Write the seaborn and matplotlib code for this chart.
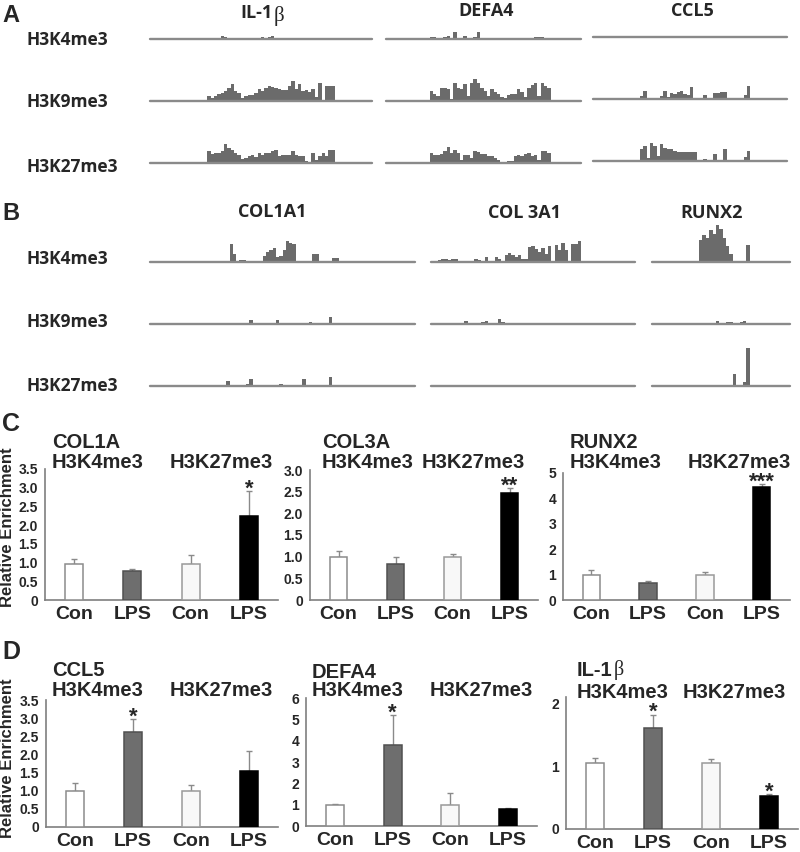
#!/usr/bin/env python3
# -*- coding:utf-8 -*-
import numpy as np
import pandas as pd
import seaborn as sns
from matplotlib import pyplot as plt

W, H = 800, 852

# ---------- A / B : ChIP-seq coverage tracks ----------
# first bin index of the signal, then read coverage per bin
il1b_nbins = 66
il1b_k4_start = 21
il1b_k4 = [3, 2, 0, 0, 0, 0, 0, 0, 0, 0, 0, 0, 2, 0, 2.3, 3.5, 0, 0, 0, 0, 0, 1.5, 0, 0, 0, 0, 0, 1.5]
il1b_k9_start = 17
il1b_k9 = [5, 3, 5, 7, 8, 10, 13, 17, 10, 8, 3, 5, 6, 6, 8, 12, 10, 13, 15, 14,
           13, 12, 11, 11, 15, 20, 12, 17, 10, 11, 9, 12, 4, 18, 0, 15, 15, 15]
il1b_k27_start = 17
il1b_k27 = [12, 9, 10, 10, 12, 19, 15, 13, 10, 8, 4, 5, 7, 8, 6, 10, 8, 10, 10, 12,
            13, 7, 8, 8, 8, 12, 8, 7, 7, 2, 0, 10, 3, 7, 10, 7, 13, 13]

defa4_nbins = 58
defa4_k4_start = 13
defa4_k4 = [2, 2, 0, 0, 2, 3, 0, 7, 0, 0, 3, 0, 0, 2, 7, 0, 0, 0, 0, 0,
            0, 0, 0, 0, 0, 0, 0, 0, 1.5, 0, 0, 2, 2.5, 2, 0, 1.5]
defa4_k9_start = 13
defa4_k9 = [10, 7, 5, 13, 13, 12, 2, 18, 13, 12, 17, 5, 18, 22, 18, 13, 10, 5, 12, 9,
            7, 4, 3, 6, 7, 7, 12, 9, 4, 13, 16, 18, 5, 18, 15, 13]
defa4_k27_start = 13
defa4_k27 = [10, 8, 8, 9, 12, 16, 10, 13, 10, 3, 8, 8, 5, 12, 11, 9, 9, 7, 7, 5,
             3, 1, 1, 2, 2, 7, 8, 7, 9, 10, 7, 8, 3, 12, 12, 10]

ccl5_nbins = 58
ccl5_k4_start = 26
ccl5_k4 = [1.5]
ccl5_k9_start = 14
ccl5_k9 = [3, 8, 0, 0, 0, 0, 3, 8, 2, 6, 5, 7, 8, 5, 4, 12, 0, 0, 0, 4,
           0, 0, 6, 6, 7, 7, 0, 0, 0, 0, 0, 4, 13]
ccl5_k27_start = 14
ccl5_k27 = [12, 15, 3, 18, 15, 5, 17, 13, 12, 12, 10, 9, 9, 9, 9, 9, 9, 0, 0, 2,
            0, 0, 7, 0, 0, 12, 0, 0, 0, 0, 0, 4, 10]

col1a1_nbins = 80
col1a1_k4_start = 24
col1a1_k4 = [18, 8, 0, 2, 2, 0, 0, 0, 0, 0, 6, 10, 12, 14, 5, 6, 12, 21, 19, 18,
             0, 0, 0, 0, 0, 8, 8, 0, 0, 0, 0, 4, 4]
col1a1_k9_start = 30
col1a1_k9 = [4, 0, 0, 0, 0, 0, 0, 0, 4, 0, 0, 0, 0, 0, 0, 0, 0, 0, 2, 0, 0, 0, 0, 0, 7]
col1a1_k27_start = 23
col1a1_k27 = [5, 0, 0, 0, 0, 0, 2, 7, 0, 0, 0, 0, 0, 0, 0, 0, 2, 0, 0, 0,
              0, 0, 0, 7, 0, 0, 0, 0, 0, 0, 0, 9]

col3a1_nbins = 61
col3a1_k4_start = 2
col3a1_k4 = [2, 3, 3, 2, 3, 3, 0, 0, 0, 0, 0, 3, 2, 0, 5, 0, 0, 5, 3, 0,
             7, 9, 7, 5, 7, 3, 3, 15, 16, 13, 10, 14, 8, 16, 0, 17, 12, 19, 12, 0,
             18, 18, 21]
col3a1_k9_start = 10
col3a1_k9 = [3, 0, 0, 0, 0, 2, 3, 0, 0, 0, 5, 2]
col3a1_k27_start = 0
col3a1_k27 = []

runx2_nbins = 41
runx2_k4_start = 14
runx2_k4 = [22, 27, 24, 32, 28, 37, 33, 24, 16, 8, 0, 0, 0, 0, 17]
runx2_k9_start = 19
runx2_k9 = [3, 0, 0, 2, 2, 0, 0, 2, 3]
runx2_k27_start = 24
runx2_k27 = [12, 0, 0, 4, 38]

track_rows = ["H3K4me3", "H3K9me3", "H3K27me3"]

# ---------- C / D : ChIP-qPCR relative enrichment ----------
groups = ["Con K4", "LPS K4", "Con K27", "LPS K27"]
group_labels = ["Con", "LPS", "Con", "LPS"]

col1a_mean = [0.97, 0.77, 0.97, 2.25]
col1a_err = [0.12, 0.07, 0.24, 0.65]
col1a_sig = ["", "", "", "*"]
col3a_mean = [1.0, 0.83, 1.0, 2.46]
col3a_err = [0.13, 0.17, 0.07, 0.12]
col3a_sig = ["", "", "", "**"]
runx2_mean = [1.0, 0.68, 1.0, 4.45]
runx2_err = [0.2, 0.08, 0.12, 0.1]
runx2_sig = ["", "", "", "***"]
ccl5_mean = [1.0, 2.62, 1.0, 1.53]
ccl5_err = [0.22, 0.35, 0.17, 0.57]
ccl5_sig = ["", "*", "", ""]
defa4_mean = [0.98, 3.8, 0.98, 0.82]
defa4_err = [0.04, 1.38, 0.58, 0.04]
defa4_sig = ["", "*", "", ""]
il1b_mean = [1.05, 1.6, 1.05, 0.53]
il1b_err = [0.08, 0.22, 0.07, 0.03]
il1b_sig = ["", "*", "", "*"]

ticks_35 = [0, 0.5, 1.0, 1.5, 2.0, 2.5, 3.0, 3.5]
ticks_35_lab = ["0", "0.5", "1.0", "1.5", "2.0", "2.5", "3.0", "3.5"]
ticks_30 = [0, 0.5, 1.0, 1.5, 2.0, 2.5, 3.0]
ticks_30_lab = ["0", "0.5", "1.0", "1.5", "2.0", "2.5", "3.0"]
ticks_5 = [0, 1, 2, 3, 4, 5]
ticks_6 = [0, 1, 2, 3, 4, 5, 6]
ticks_2 = [0, 1, 2]

bar_fill = ["white", "#6e6e6e", "#f8f8f8", "black"]
bar_edge = ["#8c8c8c", "#505050", "#9a9a9a", "black"]

sns.set_style("white")
plt.rcParams["font.family"] = ["Liberation Sans", "DejaVu Sans"]
TRACK_FONT = ["Open Sans", "Liberation Sans", "DejaVu Sans"]

fig = plt.figure(figsize=(W / 100, H / 100), dpi=100)


def px_axes(x0, y_top, x1, y_bot):
    return fig.add_axes([x0 / W, 1 - y_bot / H, (x1 - x0) / W, (y_bot - y_top) / H])


def fig_text(x, y, s, **kw):
    kw.setdefault("va", "center")
    kw.setdefault("fontweight", "bold")
    return fig.text(x / W, 1 - y / H, s, **kw)


def beta_after(txt, size, dy=0):
    """append a serif beta right after a text artist"""
    fig.axes[0].annotate("β", xy=(1, 0), xycoords=txt, xytext=(0.5, dy),
                         textcoords="offset points", va="bottom", ha="left",
                         fontsize=size, family="Liberation Serif", annotation_clip=False)


def draw_track(x0, x1, base, nbins, start, values):
    ax = px_axes(x0, base - 45, x1, base)
    idx = np.arange(start, start + len(values))
    ax.bar(idx, values, width=1, align="edge", color="#6b6b6b", linewidth=0)
    ax.axhline(0, color="#8a8a8a", lw=1.7, clip_on=False)
    ax.set_xlim(0, nbins)
    ax.set_ylim(0, 45)
    ax.axis("off")


def draw_bars(box, ymax, ticks, ticklabels, mean, err, sig):
    ax = px_axes(*box)
    df = pd.DataFrame({"group": groups, "value": mean})
    sns.barplot(data=df, x="group", y="value", hue="group", order=groups,
                hue_order=groups, palette=dict(zip(groups, bar_fill)),
                width=0.31, saturation=1, legend=False, ax=ax, errorbar=None)
    for p, ec in zip(ax.patches, bar_edge):
        p.set_edgecolor(ec)
        p.set_linewidth(1.1)
        p.set_zorder(3)
    xs = np.arange(len(groups))
    ax.errorbar(xs, mean, yerr=[np.zeros(len(err)), err], fmt="none",
                ecolor="#8a8a8a", elinewidth=1, capsize=2.5, capthick=1, zorder=1)
    for x, m, e, s in zip(xs, mean, err, sig):
        if s:
            ax.annotate(s, (x, m + e), xytext=(0, -2.5), textcoords="offset points",
                        ha="center", va="baseline", fontsize=16, fontweight="bold")
    ax.set_xlim(-0.5, len(groups) - 0.5)
    ax.set_ylim(0, ymax)
    ax.set_yticks(ticks)
    ax.set_yticklabels(ticklabels if ticklabels else [str(t) for t in ticks],
                       fontweight="bold", fontsize=10)
    ax.set_xticks(xs)
    ax.set_xticklabels(group_labels, fontweight="bold", fontsize=14)
    ax.tick_params(axis="y", length=0, pad=5)
    ax.tick_params(axis="x", length=0, pad=4)
    ax.set_xlabel("")
    ax.set_ylabel("")
    sns.despine(ax=ax)
    for side in ("left", "bottom"):
        ax.spines[side].set_color("#7f7f7f")
        ax.spines[side].set_linewidth(1.2)
    ax.patch.set_alpha(0)
    return ax


# ---------- panel A ----------
fig_text(2, 15, "A", fontsize=17, ha="left")
a_cols = [(150, 372), (386, 581), (593, 787)]
a_bases = [[39, 101, 163], [39, 101, 163], [37, 99, 161]]
a_nbins = [il1b_nbins, defa4_nbins, ccl5_nbins]
a_data = [
    [(il1b_k4_start, il1b_k4), (il1b_k9_start, il1b_k9), (il1b_k27_start, il1b_k27)],
    [(defa4_k4_start, defa4_k4), (defa4_k9_start, defa4_k9), (defa4_k27_start, defa4_k27)],
    [(ccl5_k4_start, ccl5_k4), (ccl5_k9_start, ccl5_k9), (ccl5_k27_start, ccl5_k27)],
]
for (x0, x1), bases, nb, data in zip(a_cols, a_bases, a_nbins, a_data):
    for base, (st, vals) in zip(bases, data):
        draw_track(x0, x1, base, nb, st, vals)

for y, lab in zip([40, 102, 167], track_rows):
    fig_text(27, y, lab, fontsize=12.5, ha="left", family=TRACK_FONT)
t = fig_text(257, 13, "IL-1", fontsize=13, ha="center", family=TRACK_FONT)
beta_after(t, 15, dy=-3)
fig_text(486, 11, "DEFA4", fontsize=13, ha="center", family=TRACK_FONT)
fig_text(692, 11, "CCL5", fontsize=13, ha="center", family=TRACK_FONT)

# ---------- panel B ----------
fig_text(2, 213, "B", fontsize=17, ha="left")
b_cols = [(150, 415), (431, 635), (652, 790)]
b_bases = [262, 324, 386]
b_nbins = [col1a1_nbins, col3a1_nbins, runx2_nbins]
b_data = [
    [(col1a1_k4_start, col1a1_k4), (col1a1_k9_start, col1a1_k9), (col1a1_k27_start, col1a1_k27)],
    [(col3a1_k4_start, col3a1_k4), (col3a1_k9_start, col3a1_k9), (col3a1_k27_start, col3a1_k27)],
    [(runx2_k4_start, runx2_k4), (runx2_k9_start, runx2_k9), (runx2_k27_start, runx2_k27)],
]
for (x0, x1), nb, data in zip(b_cols, b_nbins, b_data):
    for base, (st, vals) in zip(b_bases, data):
        draw_track(x0, x1, base, nb, st, vals)

for y, lab in zip([259, 322, 386], track_rows):
    fig_text(27, y, lab, fontsize=12.5, ha="left", family=TRACK_FONT)
fig_text(272, 212, "COL1A1", fontsize=13, ha="center", family=TRACK_FONT)
fig_text(524, 213, "COL 3A1", fontsize=13, ha="center", family=TRACK_FONT)
fig_text(712, 213, "RUNX2", fontsize=13, ha="center", family=TRACK_FONT)

# ---------- panel C ----------
fig_text(2, 424, "C", fontsize=18, ha="left")
draw_bars((45, 469, 278, 600), 3.5, ticks_35, ticks_35_lab, col1a_mean, col1a_err, col1a_sig)
draw_bars((310, 470, 538, 600), 3.0, ticks_30, ticks_30_lab, col3a_mean, col3a_err, col3a_sig)
draw_bars((563, 473, 790, 600), 5, ticks_5, None, runx2_mean, runx2_err, runx2_sig)
for x, gene, x27 in [(52, "COL1A", 170), (322, "COL3A", 422), (570, "RUNX2", 688)]:
    fig_text(x, 442, gene, fontsize=14.5, ha="left")
    fig_text(x, 462, "H3K4me3", fontsize=14.5, ha="left")
    fig_text(x27, 462, "H3K27me3", fontsize=14.5, ha="left")
fig_text(8, 527, "Relative Enrichment", fontsize=12, ha="center", rotation=90)

# ---------- panel D ----------
fig_text(2, 652, "D", fontsize=18, ha="left")
draw_bars((46, 700, 278, 827), 3.5, ticks_35, ticks_35_lab, ccl5_mean, ccl5_err, ccl5_sig)
draw_bars((306, 698, 537, 826), 6, ticks_6, None, defa4_mean, defa4_err, defa4_sig)
draw_bars((566, 697, 798, 829), 2.1, ticks_2, None, il1b_mean, il1b_err, il1b_sig)
for x, y, gene, x27 in [(52, 670, "CCL5", 170), (312, 672, "DEFA4", 430)]:
    fig_text(x, y, gene, fontsize=14.5, ha="left")
    fig_text(x, 690, "H3K4me3", fontsize=14.5, ha="left")
    fig_text(x27, 690, "H3K27me3", fontsize=14.5, ha="left")
t = fig_text(577, 671, "IL-1", fontsize=14.5, ha="left")
beta_after(t, 14.5, dy=0)
fig_text(577, 692, "H3K4me3", fontsize=14.5, ha="left")
fig_text(683, 692, "H3K27me3", fontsize=14.5, ha="left")
fig_text(8, 758, "Relative Enrichment", fontsize=12, ha="center", rotation=90)

fig.savefig("out.png", dpi=100)
